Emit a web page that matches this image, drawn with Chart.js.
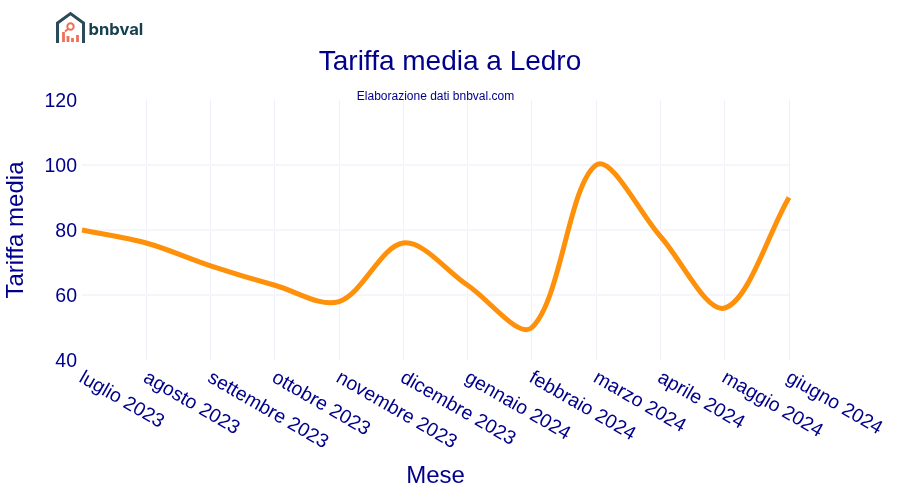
<!DOCTYPE html>
<html>
<head>
<meta charset="utf-8">
<title>Tariffa media a Ledro</title>
<script src="https://cdn.jsdelivr.net/npm/chart.js@4"></script>
<style>
  html, body { margin: 0; padding: 0; background: #fff; }
  #wrap { position: relative; width: 900px; height: 500px; }
  #logo { position: absolute; left: 55px; top: 11px; }
  #brand { position: absolute; left: 88.5px; top: 19px; font: bold 16.6px Inter, sans-serif; color: #17404f; }
</style>
</head>
<body>
<div id="wrap">
  <canvas id="chart" width="900" height="500"></canvas>
  <svg id="logo" width="32" height="34" viewBox="0 0 32 34">
    <path d="M2.5 32 V12 L15.5 2.5 L28.5 12 V32" fill="none" stroke="#2b4a58" stroke-width="3"/>
    <circle cx="15.5" cy="15.5" r="3.2" fill="none" stroke="#f0705a" stroke-width="2"/>
    <path d="M13 18 L10 20.5" stroke="#f0705a" stroke-width="2"/>
    <path d="M8.5 31 V21 M13 31 V25 M17.5 31 V27 M22.5 31 V24" stroke="#f0705a" stroke-width="2.8"/>
  </svg>
  <div id="brand">bnbval</div>
</div>
<script>
const months = ['luglio 2023', 'agosto 2023', 'settembre 2023', 'ottobre 2023', 'novembre 2023', 'dicembre 2023',
  'gennaio 2024', 'febbraio 2024', 'marzo 2024', 'aprile 2024', 'maggio 2024', 'giugno 2024'];
const tariffa = [80, 76, 69, 63, 58, 76, 63, 50, 100, 78, 56, 90];
const yTicks = [40, 60, 80, 100, 120];

const navy = '#00008b';
const arial = '"Liberation Sans", Arial, sans-serif';

// titles centred on the page, slanted month labels, value labels
const pageText = {
  id: 'pageText',
  afterDraw(chart) {
    const ctx = chart.ctx;
    ctx.save();
    ctx.fillStyle = navy;
    ctx.textAlign = 'center';
    ctx.textBaseline = 'alphabetic';
    ctx.font = '28px ' + arial;
    ctx.fillText('Tariffa media a Ledro', 450, 70);
    ctx.font = '12px ' + arial;
    ctx.fillText('Elaborazione dati bnbval.com', 435.5, 100);

    const x = chart.scales.x;
    const y = chart.scales.y;
    ctx.font = '19.5px ' + arial;
    ctx.textAlign = 'left';
    months.forEach((m, i) => {
      ctx.save();
      ctx.translate(x.getPixelForTick(i) - 4, chart.chartArea.bottom + 21);
      ctx.rotate(30 * Math.PI / 180);
      ctx.fillText(m, 0, 0);
      ctx.restore();
    });
    ctx.textAlign = 'right';
    yTicks.forEach(v => ctx.fillText(String(v), 77, y.getPixelForValue(v) + 7));
    ctx.restore();
  }
};

new Chart(document.getElementById('chart'), {
  type: 'line',
  data: {
    labels: months,
    datasets: [{
      data: tariffa,
      borderColor: '#ff900a',
      borderWidth: 5,
      tension: 0.33,
      pointRadius: 0,
      fill: false
    }]
  },
  plugins: [pageText],
  options: {
    responsive: false,
    animation: false,
    layout: { padding: { top: 100, right: 111, left: 0, bottom: 0 } },
    plugins: { legend: { display: false }, tooltip: { enabled: false } },
    scales: {
      x: {
        type: 'category',
        offset: false,
        afterFit(scale) { scale.height = 140; },
        grid: {
          drawTicks: false,
          color: ctx => ctx.index === 0 ? 'transparent' : '#eef0fa'
        },
        border: { display: false },
        ticks: { display: false },
        title: { display: true, text: 'Mese', color: navy, font: { family: arial, size: 24 }, padding: { top: 0, bottom: 9 } }
      },
      y: {
        min: 40,
        max: 120,
        afterFit(scale) { scale.width = 82; },
        afterBuildTicks(scale) { scale.ticks = yTicks.map(v => ({ value: v })); },
        grid: {
          drawTicks: false,
          lineWidth: 2,
          color: ctx => (ctx.tick.value === 40 || ctx.tick.value === 120) ? 'transparent' : '#f5f6fb'
        },
        border: { display: false },
        ticks: { display: false },
        title: { display: true, text: 'Tariffa media', color: navy, font: { family: arial, size: 24 }, padding: { top: 2, bottom: 0 } }
      }
    }
  }
});
</script>
</body>
</html>
